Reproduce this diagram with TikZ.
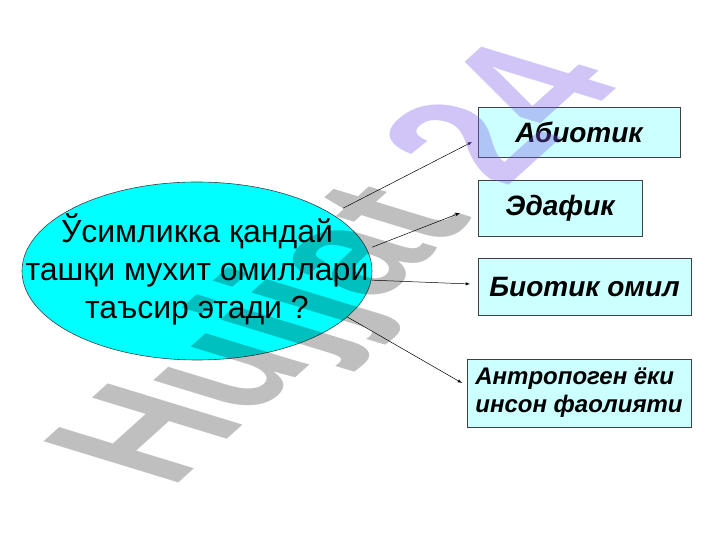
\documentclass[tikz,border=0pt]{standalone}
\usepackage{fontspec}
\setmainfont{Liberation Sans}
\usetikzlibrary{shapes.geometric}

\definecolor{ovalcyan}{RGB}{0,255,255}
\definecolor{boxcyan}{RGB}{204,255,255}
\definecolor{wmpurple}{RGB}{120,90,230}

\begin{document}
\begin{tikzpicture}[x=1pt,y=1pt,>=latex,
  factor/.style={draw=black!75,fill=boxcyan,line width=0.6pt,inner sep=0pt,
    font=\fontsize{28}{32}\selectfont\bfseries\itshape},
  link/.style={->,line width=0.5pt},
  wmark/.style={transform shape,anchor=base west,inner sep=0pt,
    font=\fontsize{100}{100}\selectfont\bfseries}]

  \useasboundingbox (0,0) rectangle (720,540);

  % Draw the big oval with the question in it
  \node (oval) [ellipse,draw=black!75,fill=ovalcyan,line width=0.6pt,
    minimum width=350pt,minimum height=178pt] at (197,269) {};
  \node (question) [align=center,font=\fontsize{32}{38}\selectfont] at (197,271)
    {Ўсимликка қандай\\ташқи мухит омиллари\\таъсир этади ?};

  % Draw the four boxes on the right
  \node (abiotic) [factor,minimum width=202pt,minimum height=50pt] at (579,408) {Абиотик};
  \node (edaphic) [factor,minimum width=164pt,minimum height=56pt] at (560,332) {Эдафик};
  \node (biotic) [factor,minimum width=213pt,minimum height=57pt] at (584.5,253) {Биотик омил};
  \node (human) [factor,minimum width=224pt,minimum height=68pt,align=left,
    font=\fontsize{24}{28}\selectfont\bfseries\itshape] at (579,147)
    {Антропоген ёки\\инсон фаолияти};

  % Arrow tips stop short of the boxes
  \coordinate (tip1) at (472,398);
  \coordinate (tip2) at (460,327);
  \coordinate (tip3) at (470,256);
  \coordinate (tip4) at (462,157);

  % Draw the arrows from the oval
  \draw[link] ([xshift=14pt,yshift=4pt]oval.24) -- (tip1);
  \draw[link] ([xshift=6pt]oval.8) -- (tip2);
  \draw[link] (oval.-3) -- (tip3);
  \draw[link] (oval.-17) -- (tip4);

  % Draw the watermark across the slide
  \begin{scope}[shift={(171,50)},cm={1.092,0.984,-1.960,0.599,(0,0)}]
    \node (wmword) [wmark,text=black,text opacity=0.25] at (0,0) {Hujjat};
    \node (wmnum) [wmark,text=wmpurple,text opacity=0.35] at ([xshift=27.8pt]wmword.base east) {24};
  \end{scope}
\end{tikzpicture}
\end{document}
